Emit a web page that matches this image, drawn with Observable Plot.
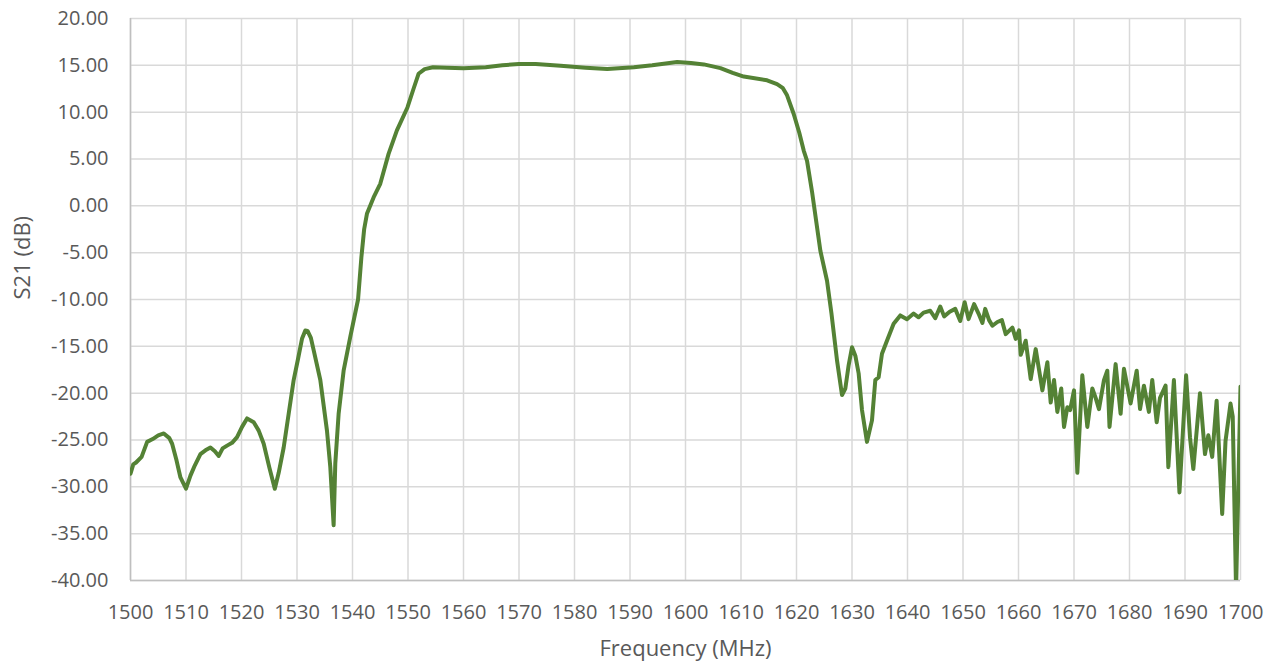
<!DOCTYPE html>
<html>
<head>
<meta charset="utf-8">
<script src="https://cdn.jsdelivr.net/npm/d3@7"></script>
<script src="https://cdn.jsdelivr.net/npm/@observablehq/plot@0.6"></script>
<style>
  html, body { margin: 0; padding: 0; background: #fff; }
  #chart { width: 1278px; height: 666px; }
</style>
</head>
<body>
<div id="chart"></div>
<script>
const freq = [1500,1500.5,1501,1502,1503,1504,1505,1506,1507,1507.5,1508.3,1509,1510,1510.8,1511.6,1512.6,1513.5,1514.4,1515.2,1515.9,1516.6,1517.4,1518.3,1519.2,1520.1,1521,1522.2,1523.1,1524,1525,1526,1526.7,1527.6,1528.5,1529.4,1530.2,1530.9,1531.5,1531.9,1532.5,1533,1534.2,1535.4,1536,1536.6,1536.9,1537.5,1538.4,1539.6,1541,1541.6,1542.1,1542.6,1543.8,1545,1546.5,1548,1549.9,1551,1551.9,1553,1554.5,1557,1560,1564,1567,1570,1573,1577.5,1582,1585.9,1590.7,1594,1598.5,1601,1603.3,1606.3,1608.5,1610.5,1614.7,1616.5,1617.5,1618.3,1619.5,1620.5,1621.3,1621.9,1622.8,1624.3,1625.5,1626.3,1627.3,1628.2,1628.8,1629.4,1630,1630.6,1631.2,1631.8,1632.7,1633.6,1634.2,1634.8,1635.4,1636.3,1637.5,1638.7,1639.9,1641.1,1642,1642.9,1644.1,1645,1645.9,1646.6,1647.6,1648.6,1649.5,1650.3,1651,1652,1652.8,1653.5,1654,1654.7,1655.3,1656.2,1657,1657.7,1658.9,1659.5,1660.1,1660.4,1661.3,1662.2,1663.1,1664.3,1665.2,1665.8,1666.4,1667,1667.7,1668.2,1668.8,1669.3,1670,1670.6,1671.5,1672.4,1673.3,1673.9,1674.5,1675.4,1676,1676.4,1677.5,1678.4,1679,1680.2,1681.3,1681.9,1682.6,1683.5,1684.1,1684.9,1685.5,1686.5,1687,1688,1689,1690.2,1690.9,1691.5,1692.7,1693.6,1694.2,1694.9,1695.7,1696.7,1697.3,1698.2,1698.6,1699.2,1700];
const s21 = [-28.6,-27.6,-27.4,-26.8,-25.2,-24.9,-24.5,-24.3,-24.8,-25.4,-27.2,-29.0,-30.2,-28.8,-27.7,-26.5,-26.1,-25.8,-26.2,-26.7,-25.9,-25.6,-25.3,-24.7,-23.6,-22.7,-23.1,-24.0,-25.4,-27.9,-30.2,-28.5,-25.8,-22.2,-18.6,-16.3,-14.2,-13.3,-13.35,-14.1,-15.4,-18.6,-24.0,-27.9,-34.1,-27.5,-22.2,-17.6,-14.0,-10.0,-5.5,-2.5,-0.85,0.9,2.35,5.55,8.05,10.5,12.5,14.1,14.6,14.8,14.75,14.7,14.8,15.0,15.15,15.15,14.95,14.75,14.6,14.8,15.0,15.35,15.25,15.1,14.7,14.2,13.8,13.4,13.0,12.6,11.8,9.8,7.8,5.9,4.8,1.5,-4.8,-8.0,-11.5,-16.5,-20.2,-19.5,-17.0,-15.1,-16.0,-17.9,-21.8,-25.2,-22.9,-18.6,-18.3,-15.8,-14.4,-12.6,-11.7,-12.1,-11.5,-11.9,-11.4,-11.2,-12.0,-10.75,-11.8,-11.3,-11.0,-12.3,-10.3,-12.1,-10.5,-11.5,-12.5,-11.0,-12.2,-12.8,-12.4,-12.2,-13.7,-13.0,-14.2,-13.3,-15.9,-14.4,-18.5,-15.3,-19.7,-16.7,-21.0,-18.6,-22.0,-19.5,-23.6,-21.5,-21.8,-19.7,-28.5,-18.1,-23.6,-19.5,-20.5,-21.7,-18.6,-17.6,-23.6,-16.9,-22.2,-17.4,-21.1,-17.6,-21.7,-19.2,-22.0,-18.6,-23.1,-20.5,-19.2,-27.9,-18.6,-30.6,-18.1,-24.7,-28.1,-20.0,-26.5,-24.5,-26.8,-20.8,-32.9,-25.1,-21.1,-22.5,-41.0,-19.3];

const xTicks = d3.range(1500, 1701, 10);
const yTicks = d3.range(-40, 21, 5);
const xTitle = "Frequency (MHz)";
const yTitle = "S21 (dB)";

const data = freq.map((f, i) => ({f, v: s21[i]}));
const font = "'Open Sans', 'Liberation Sans', sans-serif";
const textColor = "#595959";

const chart = Plot.plot({
  width: 1278,
  height: 666,
  marginLeft: 130,
  marginRight: 38,
  marginTop: 18,
  marginBottom: 86,
  style: {fontFamily: font, background: "#fff"},
  x: {domain: [1500, 1700]},
  y: {domain: [-40, 20]},
  marks: [
    Plot.gridX(xTicks, {stroke: "#d9d9d9", strokeOpacity: 1, strokeWidth: 1.5}),
    Plot.gridY(yTicks, {stroke: "#d9d9d9", strokeOpacity: 1, strokeWidth: 1.5}),
    Plot.ruleX([1500], {stroke: "#bfbfbf", strokeWidth: 1.5}),
    Plot.ruleY([-40], {stroke: "#bfbfbf", strokeWidth: 1.5}),
    Plot.axisX(xTicks, {tickSize: 0, tickPadding: 24, fontSize: 20, fill: textColor, label: null, tickFormat: d => String(d)}),
    Plot.axisY(yTicks, {tickSize: 0, tickPadding: 22, fontSize: 20, fill: textColor, label: null, tickFormat: d => d.toFixed(2)}),
    Plot.line(data, {x: "f", y: "v", stroke: "#548235", strokeWidth: 4, strokeLinejoin: "round", strokeLinecap: "round", clip: true}),
    Plot.text([xTitle], {frameAnchor: "bottom", dy: 75, fontSize: 22, fill: textColor}),
    Plot.text([yTitle], {frameAnchor: "left", dx: -108, rotate: -90, fontSize: 22, fill: textColor})
  ]
});
document.getElementById("chart").appendChild(chart);
</script>
</body>
</html>
